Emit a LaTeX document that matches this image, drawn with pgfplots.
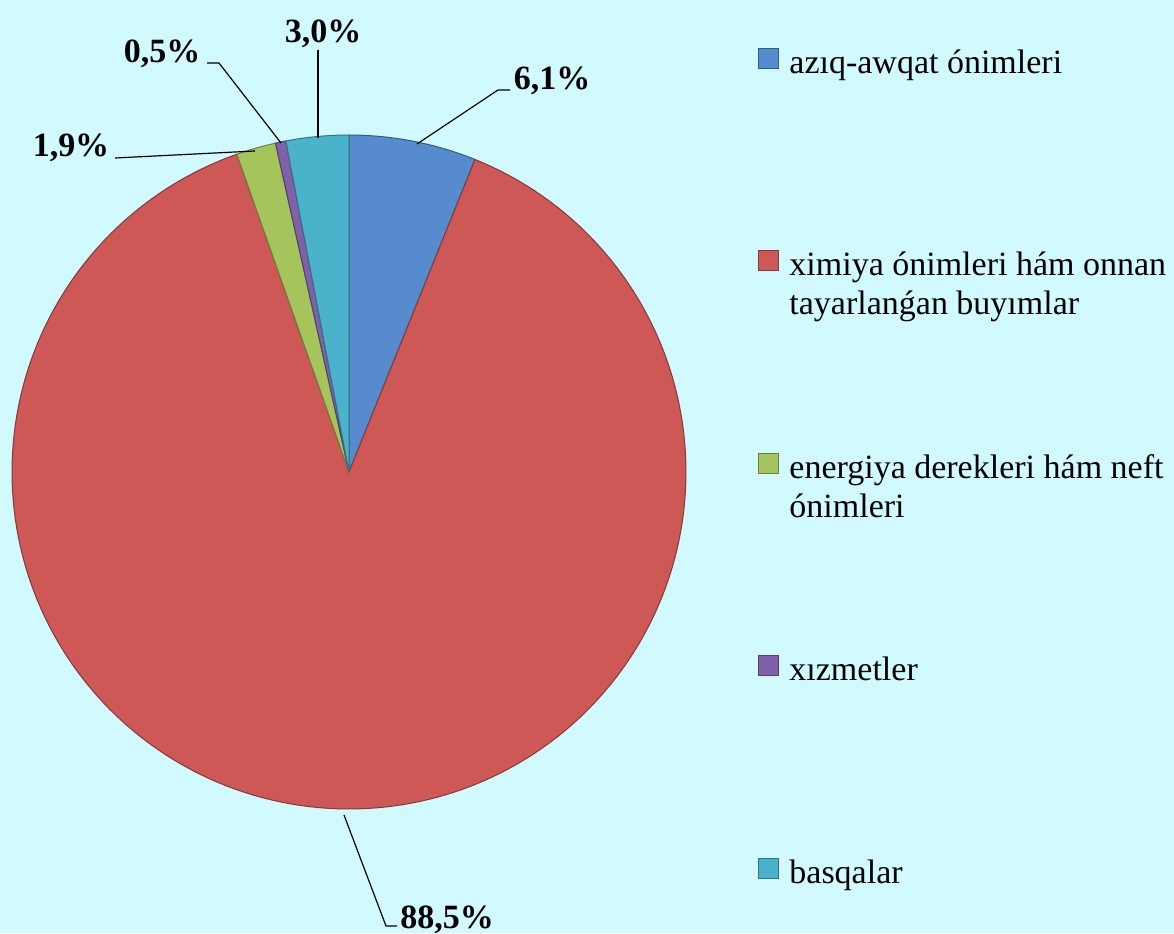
\documentclass[border=0pt]{standalone}
\usepackage{pgfplots}
\pgfplotsset{compat=1.18}
\usepackage{fontspec}
\setmainfont{Liberation Serif}
\definecolor{bg}{RGB}{208,250,255}
\definecolor{cA}{RGB}{86,139,206}
\definecolor{cB}{RGB}{206,88,85}
\definecolor{cC}{RGB}{166,196,92}
\definecolor{cD}{RGB}{128,96,168}
\definecolor{cE}{RGB}{75,178,204}
% one slice: colour, cumulative share before it, share (%), samples
\newcommand{\slice}[4]{%
  \addplot[fill=#1, draw=#1!65!black, line width=0.5pt, domain=0:#3, samples=#4, variable=\p]
    ({349+337*cos(90-3.6*(#2+\p))},{461+337*sin(90-3.6*(#2+\p))}) -- (349,461) -- cycle;
}
\newcommand{\legtext}[1]{\parbox[t][60pt][t]{200pt}{\strut #1}}
\begin{document}
\begin{tikzpicture}
\begin{axis}[
  scale only axis, width=587pt, height=466.5pt,
  xmin=0, xmax=1174, ymin=0, ymax=933,
  hide axis, clip=false,
  legend cell align=left,
  legend image code/.code={\fill[#1] (0pt,2.4pt) rectangle (10pt,12.4pt);},
  legend style={draw=none, fill=none, inner sep=0pt, at={(axis cs:758,887.6)}, anchor=north west,
    font=\fontsize{17}{19.5}\selectfont, row sep=41.25pt, column sep=5pt,
    cells={anchor=base west}, nodes={inner sep=0pt, text depth=}},
]
\fill[bg] (rel axis cs:0,0) rectangle (rel axis cs:1,1);
\slice{cA}{0}{6.1}{20}
\slice{cB}{6.1}{88.5}{200}
\slice{cC}{94.6}{1.9}{8}
\slice{cD}{96.5}{0.5}{4}
\slice{cE}{97.0}{3.0}{10}
\addlegendentry{\legtext{azıq-awqat ónimleri}}
\addlegendentry{\legtext{ximiya ónimleri hám onnan\\ tayarlanǵan buyımlar}}
\addlegendentry{\legtext{energiya derekleri hám neft\\ ónimleri}}
\addlegendentry{\legtext{xızmetler}}
\addlegendentry{\legtext{basqalar}}
% leader lines
\draw[line width=0.6pt] (417,789) -- (498,843) -- (510,843);
\draw[line width=0.6pt] (318,795) -- (318,883);
\draw[line width=0.6pt] (281,790) -- (219,870) -- (207,870);
\draw[line width=0.6pt] (255,782) -- (115,775);
\draw[line width=0.6pt] (344,118) -- (386,7) -- (397,7);
% labels
\begin{scope}[every node/.style={font=\fontsize{17}{20}\selectfont\bfseries, anchor=base, inner sep=0pt}]
\node at (552,843) {6,1\%};
\node at (323,890) {3,0\%};
\node at (162,870) {0,5\%};
\node at (71,776) {1,9\%};
\node at (447,5) {88,5\%};
\end{scope}
\end{axis}
\pgfresetboundingbox
\useasboundingbox (0,0) rectangle (587pt,466.5pt);
\end{tikzpicture}
\end{document}
